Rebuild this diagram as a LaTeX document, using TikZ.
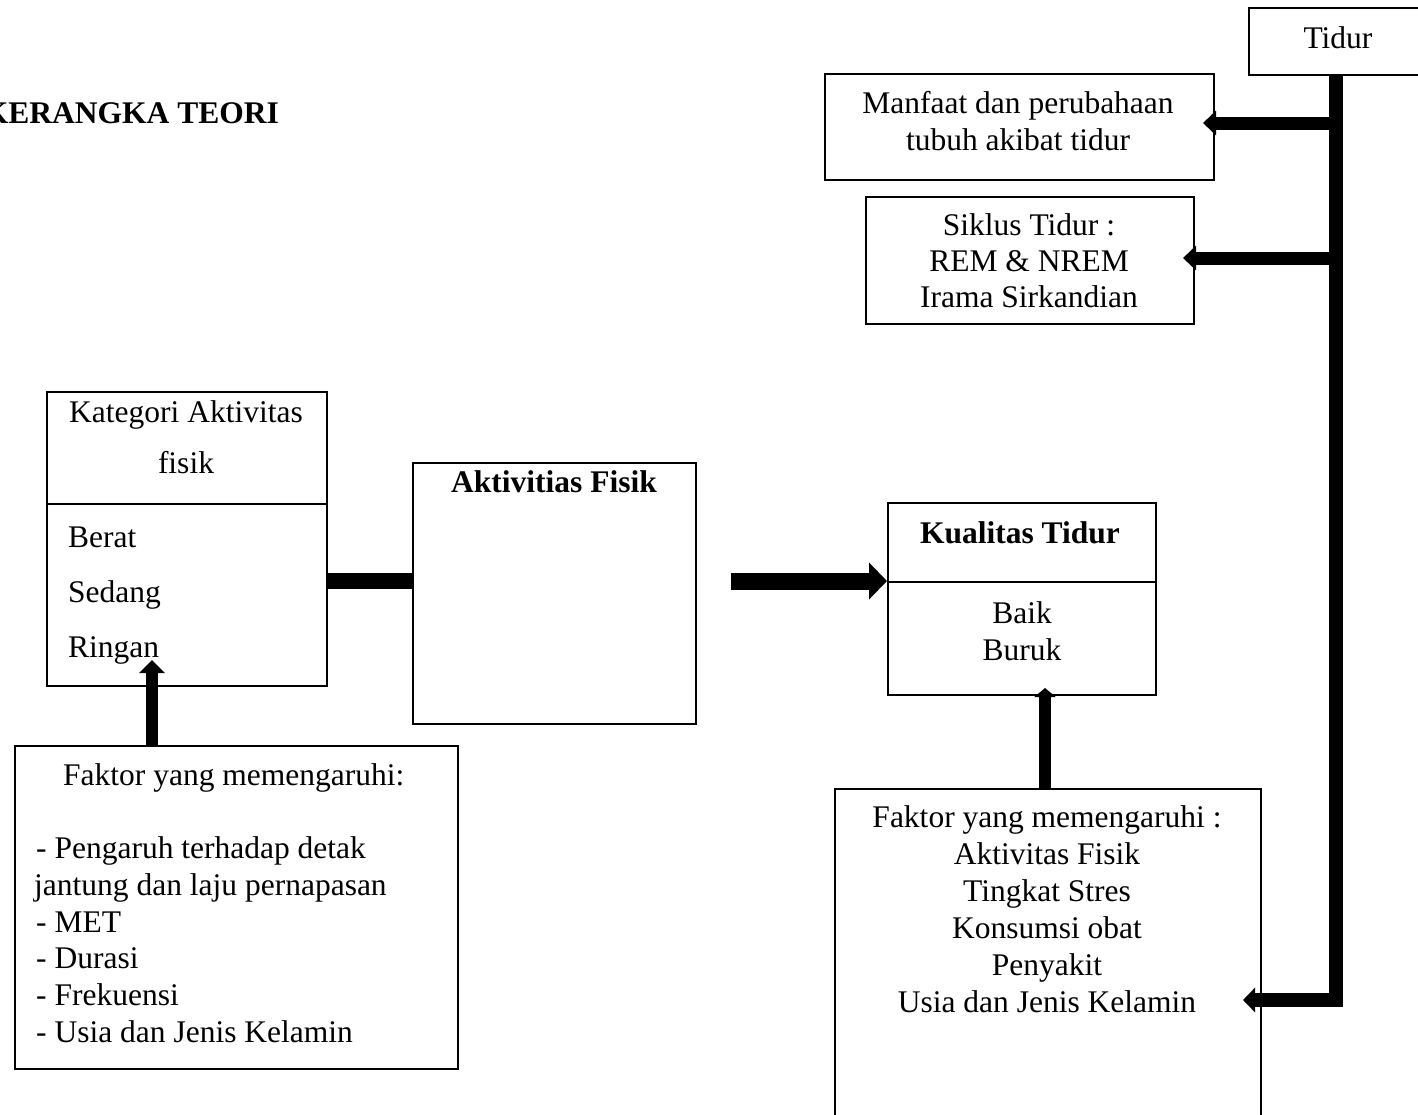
\documentclass[tikz,border=0pt]{standalone}
\usepackage{fontspec}
\setmainfont{Liberation Serif}
\usetikzlibrary{arrows.meta}
\begin{document}
\begin{tikzpicture}[x=1pt,y=-1pt,
  box/.style={draw,line width=1.6pt,inner sep=0pt,anchor=north west},
  txt/.style={inner sep=0pt,font=\fontsize{31.5}{37}\selectfont,anchor=base},
  txtl/.style={txt,anchor=base west},
  bold/.style={font=\fontsize{31.5}{37}\selectfont\bfseries},
  bar/.style={line width=#1},
  fatarrow/.style n args={3}{line width=#1,-{Triangle[width=#2,length=#3]}}]
\useasboundingbox (0,0) rectangle (1418,1114);

% title
\node[txt,bold,anchor=base east] (title) at (279,123) {KERANGKA TEORI};

% boxes
\node[box,minimum width=172,minimum height=67] (tidur) at (1248,7) {};
\node[box,minimum width=389,minimum height=106] (manfaat) at (824,73) {};
\node[box,minimum width=328,minimum height=127] (siklus) at (865,196) {};
\node[box,minimum width=280,minimum height=294] (kategori) at (46,391) {};
\node[box,minimum width=283,minimum height=261] (aktivitas) at (412,462) {};
\node[box,minimum width=268,minimum height=192] (kualitas) at (887,502) {};
\node[box,minimum width=426,minimum height=340] (faktorB) at (834,788) {};
\node[box,minimum width=443,minimum height=323] (faktorA) at (14,745) {};

% dividers
\draw[line width=1.6pt] (kategori.west |- 0,504) -- (kategori.east |- 0,504);
\draw[line width=1.6pt] (kualitas.west |- 0,582) -- (kualitas.east |- 0,582);

% texts
\node[txt] (tTidur) at (1338,48) {Tidur};
\node[txt] (tM1) at (1018,113) {Manfaat dan perubahaan};
\node[txt] (tM2) at (1018,150) {tubuh akibat tidur};
\node[txt] (tS1) at (1029,235) {Siklus Tidur :};
\node[txt] (tS2) at (1029,271) {REM \& NREM};
\node[txt] (tS3) at (1029,307) {Irama Sirkandian};
\node[txt] (tK1) at (186,422) {Kategori Aktivitas};
\node[txt] (tK2) at (186,473) {fisik};
\node[txtl] (tK3) at (68,547) {Berat};
\node[txtl] (tK4) at (68,602) {Sedang};
\node[txtl] (tK5) at (68,657) {Ringan};
\node[txt,bold] (tA) at (554,492) {Aktivitias Fisik};
\node[txt,bold] (tQ1) at (1020,543) {Kualitas Tidur};
\node[txt] (tQ2) at (1022,623) {Baik};
\node[txt] (tQ3) at (1022,660) {Buruk};
\node[txt] (tB1) at (1047,827) {Faktor yang memengaruhi :};
\node[txt] (tB2) at (1047,864) {Aktivitas Fisik};
\node[txt] (tB3) at (1047,901) {Tingkat Stres};
\node[txt] (tB4) at (1047,938) {Konsumsi obat};
\node[txt] (tB5) at (1047,975) {Penyakit};
\node[txt] (tB6) at (1047,1012) {Usia dan Jenis Kelamin};
\node[txtl] (tF1) at (63,785) {Faktor yang memengaruhi:};
\node[txtl] (tF2) at (36,858) {- Pengaruh terhadap detak};
\node[txtl] (tF3) at (34,895) {jantung dan laju pernapasan};
\node[txtl] (tF4) at (36,932) {- MET};
\node[txtl] (tF5) at (36,968) {- Durasi};
\node[txtl] (tF6) at (36,1005) {- Frekuensi};
\node[txtl] (tF7) at (36,1042) {- Usia dan Jenis Kelamin};

% connectors
\coordinate (spineTop) at (1336,74);
\coordinate (spineBot) at (1336,1000);
\coordinate (brM) at (1336,123);
\coordinate (brS) at (1336,258);
\coordinate (tipM) at (1203,123);
\coordinate (tipS) at (1183,258);
\coordinate (tipB) at (1243,1000);
\coordinate (arrStart) at (731,581);
\coordinate (tipQ) at (1045,688);
\coordinate (tipK) at (152,660);

\draw[bar=14pt] (spineTop) -- (spineBot);
\draw[fatarrow={14pt}{24pt}{12pt},line join=miter] ([yshift=-7pt]spineTop) -- (spineBot) -- (tipB);
\draw[fatarrow={13pt}{24pt}{13pt}] (brM) -- (tipM);
\draw[fatarrow={13pt}{24pt}{13pt}] (brS) -- (tipS);
\draw[bar=16pt] (kategori.east |- 0,581) -- (aktivitas.west |- 0,581);
\draw[fatarrow={17pt}{36pt}{18pt}] (arrStart) -- (kualitas.west |- arrStart);
\draw[fatarrow={12pt}{21pt}{9pt}] (faktorB.north -| tipQ) -- (tipQ);
\draw[fatarrow={12pt}{25pt}{13pt}] (faktorA.north -| tipK) -- (tipK);
\end{tikzpicture}
\end{document}
